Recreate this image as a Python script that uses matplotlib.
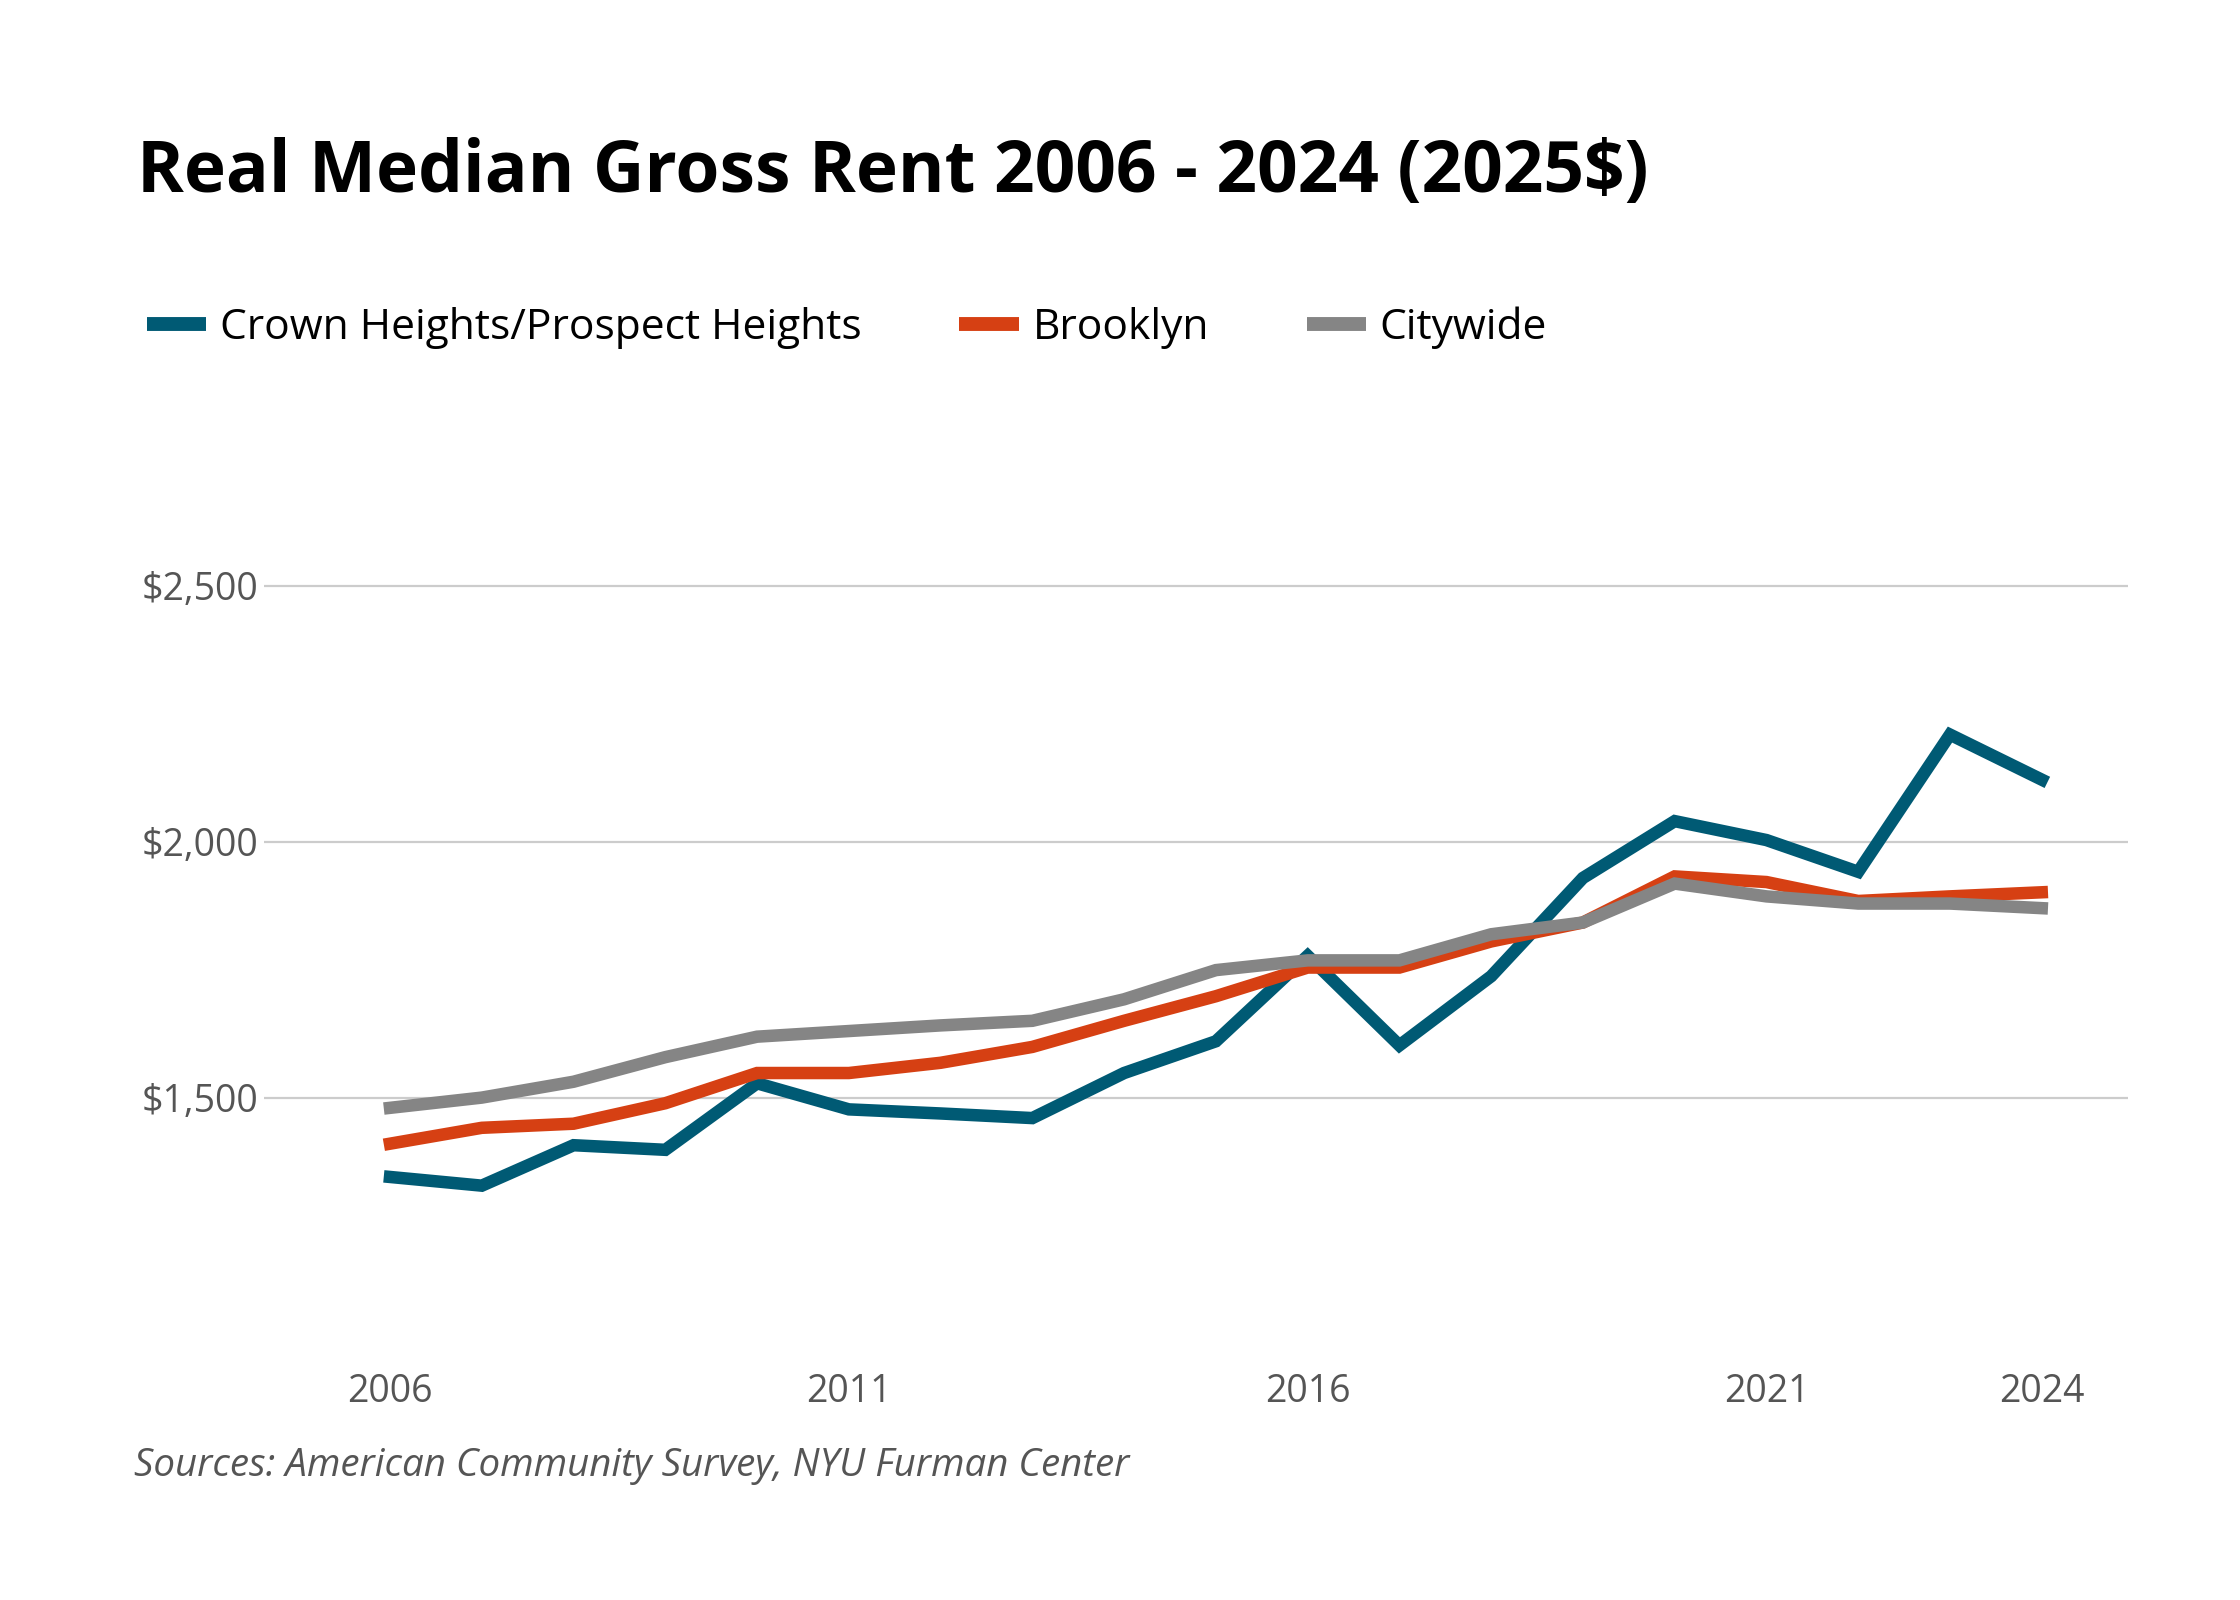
import matplotlib
matplotlib.use("Agg")
import matplotlib.pyplot as plt
from matplotlib.lines import Line2D

years = list(range(2006, 2025))
crown_heights = [1345, 1328, 1407, 1398, 1528, 1477, 1469, 1460, 1548, 1610,
                 1777, 1602, 1737, 1929, 2040, 2003, 1941, 2209, 2121]
brooklyn = [1410, 1441, 1449, 1489, 1548, 1548, 1568, 1599, 1650, 1698,
            1754, 1754, 1805, 1842, 1932, 1921, 1884, 1893, 1901]
citywide = [1480, 1500, 1531, 1579, 1619, 1630, 1641, 1650, 1692, 1749,
            1768, 1768, 1819, 1842, 1918, 1893, 1879, 1879, 1870]

series_names = ["Crown Heights/Prospect Heights", "Brooklyn", "Citywide"]
colors = ["#005a74", "#d64013", "#858585"]
x_ticks = [2006, 2011, 2016, 2021, 2024]
y_ticks = [1500, 2000, 2500]

plt.rcParams['font.family'] = ['Open Sans', 'DejaVu Sans']

fig = plt.figure(figsize=(11.2, 8), dpi=200)
ax = fig.add_axes([0.118, 0.154, 0.832, 0.544])

for vals, name, c in zip([crown_heights, brooklyn, citywide], series_names, colors):
    ax.plot(years, vals, color=c, linewidth=4.5, label=name, solid_joinstyle='miter')

ax.set_xlim(2004.63, 2024.94)
ax.set_ylim(1000, 2700)
ax.set_yticks(y_ticks)
ax.set_yticklabels(["${:,}".format(v) for v in y_ticks])
ax.set_xticks(x_ticks)
ax.set_xticklabels([str(v) for v in x_ticks])
ax.grid(axis='y', color='#cccccc', linewidth=0.8)
ax.set_axisbelow(True)
for s in ax.spines.values():
    s.set_visible(False)
ax.tick_params(length=0, labelsize=13.5, labelcolor='#555555')
ax.tick_params(axis='y', pad=2)
ax.tick_params(axis='x', pad=7)

fig.text(0.061, 0.892, "Real Median Gross Rent 2006 - 2024 (2025$)",
         fontsize=25.6, fontweight='bold', color='black', va='center', ha='left')

handles = [Line2D([], [], color=c, linewidth=5, solid_capstyle='butt') for c in colors]
fig.legend(handles, series_names, loc='center left', bbox_to_anchor=(0.0656, 0.795),
           ncol=3, frameon=False, fontsize=15.3, handlelength=1.4, handletextpad=0.32,
           columnspacing=2.3, borderaxespad=0, borderpad=0)

fig.text(0.060, 0.084, "Sources: American Community Survey, NYU Furman Center",
         fontsize=13.85, style='italic', color='#555555', va='center', ha='left')

fig.savefig("out.png", dpi=200, facecolor='white')
